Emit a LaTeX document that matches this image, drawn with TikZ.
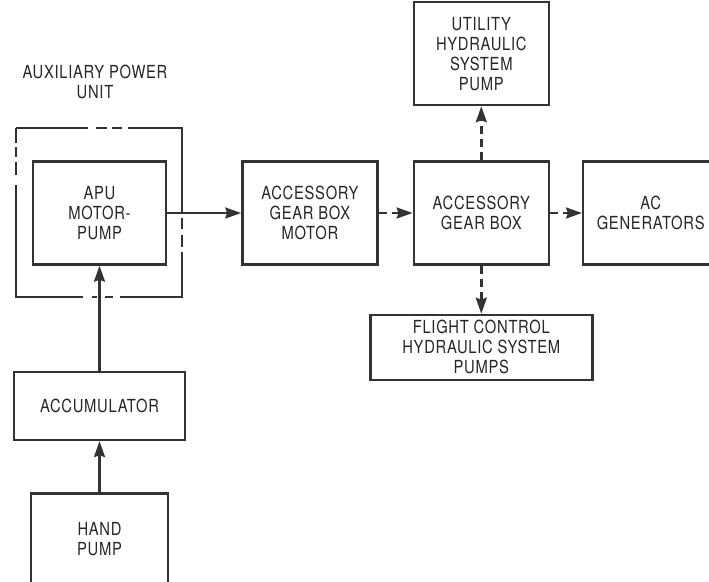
\documentclass[tikz,border=0pt]{standalone}
\usepackage{fontspec}
\setmainfont{TeX Gyre Heros}[FakeStretch=0.82,LetterSpace=4]
\usetikzlibrary{arrows.meta,positioning}

\begin{document}
\begin{tikzpicture}[x=1pt,y=-1pt,>={Stealth[length=16pt,width=11pt,inset=2pt]},
  font=\fontsize{18}{20}\selectfont,line width=2.4pt,text=black!85,
  blk/.style={draw=black!80,minimum width=135pt,minimum height=103pt,align=center,inner sep=0pt},
  dsh/.style={->,dash pattern=on 8pt off 5pt}]
\useasboundingbox (0,0) rectangle (709,581);
\node[blk,minimum width=133pt] (apu) at (99.5,213) {APU\\MOTOR-\\PUMP};
\node[blk,right=74pt of apu] (agbm) {ACCESSORY\\GEAR BOX\\MOTOR};
\node[blk,right=34pt of agbm] (agb) {ACCESSORY\\GEAR BOX};
\node[blk,right=32pt of agb] (acg) {AC\\GENERATORS};
\node[blk,above=54pt of agb] (uhp) {UTILITY\\HYDRAULIC\\SYSTEM\\PUMP};
\node[blk,below=48pt of agb,minimum width=222pt,minimum height=65pt] (fcp) {FLIGHT CONTROL\\HYDRAULIC SYSTEM\\PUMPS};
\node[blk,below=105pt of apu,minimum width=171pt,minimum height=68pt] (acc) {ACCUMULATOR};
\node[blk,below=51pt of acc,minimum width=137pt,minimum height=92pt] (hnd) {HAND\\PUMP};
\node[align=center] (lbl) at (95,82) {AUXILIARY POWER\\UNIT};
% auxiliary power unit outline
\draw[black!80] (16,128)--(88,128) (96,128)--(107,128) (112,128)--(122,128) (128,128)--(182,128)--(182,213)
  (182,218)--(182,229) (182,235)--(182,247) (182,252)--(182,297)--(120,297) (113,297)--(105,297)
  (97,297)--(92,297) (83,297)--(16,297)--(16,185) (16,175)--(16,162) (16,157)--(16,147) (16,143)--(16,128);
\draw[->,black!80] (apu)--(agbm);
\draw[dsh,black!80] (agbm)--(agb);
\draw[dsh,black!80] (agb)--(acg);
\draw[dsh,black!80] (agb)--(uhp);
\draw[dsh,black!80] (agb)--(fcp);
\draw[->,black!80] (acc)--(apu);
\draw[->,black!80] (hnd)--(acc);
\end{tikzpicture}
\end{document}
